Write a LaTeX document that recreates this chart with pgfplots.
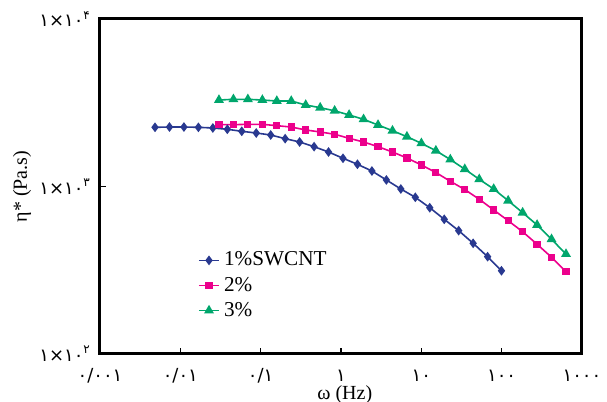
\documentclass[border=0pt]{standalone}
\usepackage{fontspec}
\setmainfont{Liberation Serif}
\newfontfamily\digitfont{DejaVu Sans}
\usepackage{pgfplots}
\pgfplotsset{compat=1.18}
\usetikzlibrary{calc}
\definecolor{sblue}{RGB}{41,57,144}
\definecolor{spink}{RGB}{236,0,140}
\definecolor{sgreen}{RGB}{0,166,108}

\pgfplotstableread{
x y
0.00484 2256
0.00733 2265
0.01109 2265
0.01679 2256
0.02541 2235
0.03846 2196
0.05821 2136
0.0881 2086
0.1334 2030
0.2018 1930
0.3055 1844
0.4624 1729
0.6998 1607
1.059 1474
1.603 1357
2.427 1237
3.673 1094
5.559 966
8.414 862
12.74 747
19.28 637
29.17 545
44.16 458
66.83 381
99.5 314
}\onepct

\pgfplotstableread{
x y
0.03027 2339
0.04581 2339
0.06934 2351
0.1050 2351
0.1589 2307
0.2404 2265
0.3639 2175
0.5508 2116
0.8337 2050
1.262 1940
1.910 1844
2.891 1729
4.375 1607
6.622 1480
10.02 1344
15.17 1212
22.96 1074
34.75 959
52.60 839
79.62 724
120.5 625
182.4 537
276.1 452
417.8 378
632.4 310
}\twopct

\pgfplotstableread{
x y
0.03027 3283
0.04581 3315
0.06934 3315
0.1050 3283
0.1589 3238
0.2404 3238
0.3639 3066
0.5508 2954
0.8337 2831
1.262 2673
1.910 2518
2.891 2329
4.375 2154
6.622 1983
10.02 1811
15.17 1636
22.96 1449
34.75 1269
52.60 1104
79.62 966
120.5 823
182.4 698
276.1 589
417.8 484
632.4 395
}\threepct

\begin{document}
\begin{tikzpicture}
\begin{loglogaxis}[
  name=ax,
  scale only axis,
  width=241pt, height=167.5pt,
  xmin=0.001, xmax=1000,
  ymin=100, ymax=10000,
  axis line style={line width=1.5pt},
  tick align=inside,
  tick pos=left,
  major tick length=3pt,
  every tick/.style={black, line width=0.8pt},
  xminorticks=false, yminorticks=false,
  xtick={0.001,0.01,0.1,1,10,100,1000},
  xticklabels={\mbox{\digitfont ۰/۰۰۱},\mbox{\digitfont ۰/۰۱},\mbox{\digitfont ۰/۱},\mbox{\digitfont ۱},\mbox{\digitfont ۱۰},\mbox{\digitfont ۱۰۰},\mbox{\digitfont ۱۰۰۰}},
  ytick={100,1000,10000},
  yticklabels={\mbox{\digitfont ۱×۱۰\textsuperscript{۲}},\mbox{\digitfont ۱×۱۰\textsuperscript{۳}},\mbox{\digitfont ۱×۱۰\textsuperscript{۴}}},
  tick label style={font=\fontsize{9}{10}\selectfont},
  xticklabel style={anchor=center, yshift=-11pt},
  yticklabel style={anchor=east, xshift=-1pt},
  xlabel={ω (Hz)},
  ylabel={η* (Pa.s)},
  label style={font=\fontsize{11.5}{13}\selectfont},
  every axis x label/.style={at={(axis description cs:0.508,0)}, anchor=center, yshift=-20.5pt},
  every axis y label/.style={at={(axis description cs:0,0.5)}, rotate=90, anchor=center, yshift=39pt},
  legend style={draw=none, fill=none, at={(axis description cs:0.19,0.33)}, anchor=north west,
    font=\fontsize{10.6}{12}\selectfont, row sep=0pt},
  legend cell align=left,
  legend image code/.code={\draw[mark repeat=2,mark phase=2,#1] plot coordinates {(0cm,0cm) (0.18cm,0cm) (0.36cm,0cm)};},
]
\addplot[sblue, line width=0.8pt, mark=diamond*, mark size=1.8pt] table {\onepct};
\addplot[spink, line width=0.8pt, mark=square*, mark size=1.4pt] table {\twopct};
\addplot[sgreen, line width=0.8pt, mark=triangle*, mark size=2.1pt] table {\threepct};
\legend{1\%SWCNT, 2\%, 3\%}
\end{loglogaxis}
\pgfresetboundingbox
\path[use as bounding box] ($(ax.south west)+(-50pt,-24pt)$) rectangle ($(ax.north east)+(12.5pt,9.5pt)$);
\end{tikzpicture}
\end{document}
